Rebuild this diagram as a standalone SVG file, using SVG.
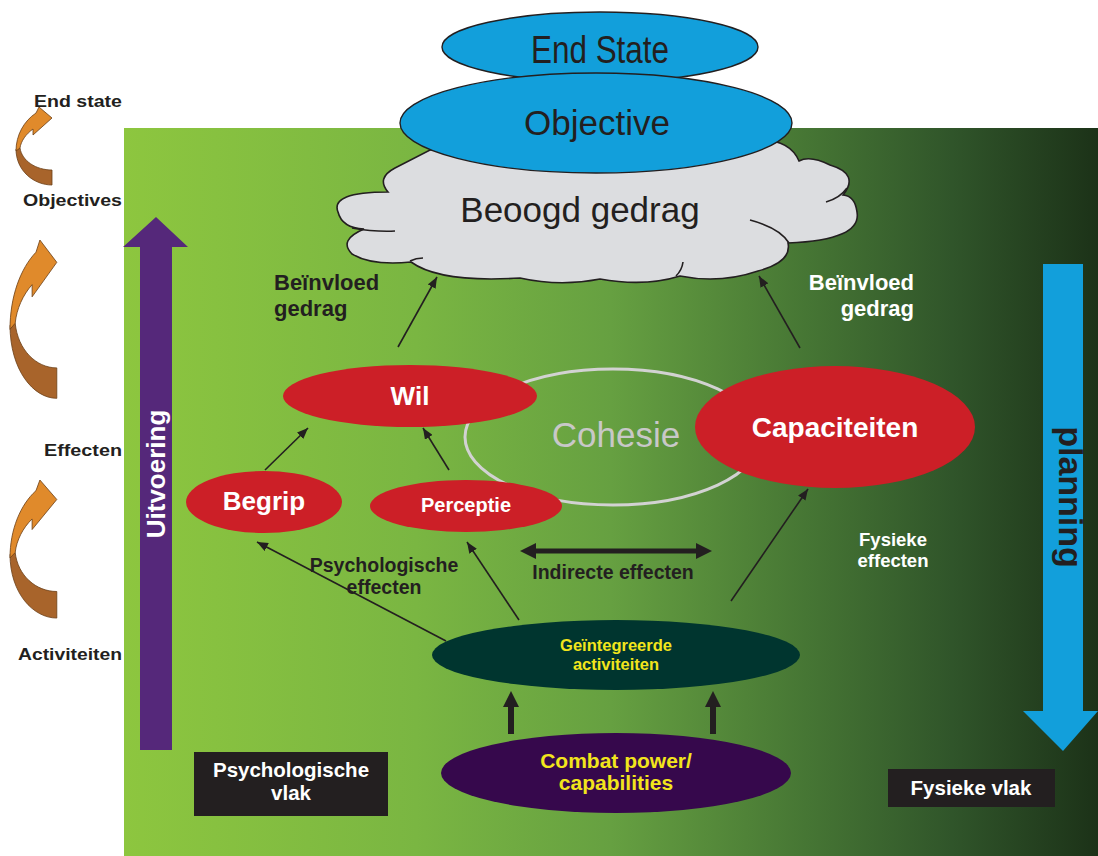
<svg xmlns="http://www.w3.org/2000/svg" width="1098" height="856" viewBox="0 0 1098 856">
<defs>
<linearGradient id="bgGrad" x1="124" y1="0" x2="1098" y2="0" gradientUnits="userSpaceOnUse">
<stop offset="0" stop-color="#8dc63f"/>
<stop offset="0.3" stop-color="#7ab642"/>
<stop offset="0.5" stop-color="#66a041"/>
<stop offset="0.7" stop-color="#467634"/>
<stop offset="0.85" stop-color="#30552a"/>
<stop offset="1" stop-color="#1c3218"/>
</linearGradient>
<marker id="ah" markerUnits="userSpaceOnUse" markerWidth="11" markerHeight="9" refX="11" refY="4.5" orient="auto">
<path d="M0,0 L11,4.5 L0,9 z" fill="#231f20"/>
</marker>
</defs>
<style>
text{font-family:"Liberation Sans",Arial,sans-serif;}
.b{font-weight:bold;}
.dark{fill:#231f20;}
.white{fill:#ffffff;}
.yellow{fill:#f2e51c;}
.red{fill:#cc1f27;}
.conn{stroke:#231f20;stroke-width:1.6;fill:none;marker-end:url(#ah);}
.orange{fill:#e08a2b;stroke:#6b3f16;stroke-width:0.8;vector-effect:non-scaling-stroke;}
.brown{fill:#a8642b;stroke:#6b3f16;stroke-width:0.8;vector-effect:non-scaling-stroke;}
.cloudline{fill:none;stroke:#231f20;stroke-width:1.6;}
</style>

<rect id="background" x="124" y="128" width="974" height="728" fill="url(#bgGrad)"/>

<g id="left-scale">
<text class="b dark" x="122" y="107" font-size="17" text-anchor="end" textLength="88" lengthAdjust="spacingAndGlyphs">End state</text>
<text class="b dark" x="122" y="206" font-size="17" text-anchor="end" textLength="99" lengthAdjust="spacingAndGlyphs">Objectives</text>
<text class="b dark" x="122" y="456" font-size="17" text-anchor="end" textLength="78" lengthAdjust="spacingAndGlyphs">Effecten</text>
<text class="b dark" x="122" y="660" font-size="17" text-anchor="end" textLength="104" lengthAdjust="spacingAndGlyphs">Activiteiten</text>
<g id="curved-arrow-1" transform="translate(16,107)">
<path class="brown" d="M0,42 C0,64 18,78 36,78 L36,63 C20,63 6,54 4,41 Z"/>
<path class="orange" d="M20,6 L23,0 L36,11 L17,28 L17,22 C10,27 5,34 4,41 L0,44 C0,28 8,14 20,6 Z"/>
</g>
<g id="curved-arrow-2" transform="translate(10,240) scale(1.3,2.03)">
<path class="brown" d="M0,42 C0,64 18,78 36,78 L36,63 C20,63 6,54 4,41 Z"/>
<path class="orange" d="M20,6 L23,0 L36,11 L17,28 L17,22 C10,27 5,34 4,41 L0,44 C0,28 8,14 20,6 Z"/>
</g>
<g id="curved-arrow-3" transform="translate(10,480) scale(1.3,1.77)">
<path class="brown" d="M0,42 C0,64 18,78 36,78 L36,63 C20,63 6,54 4,41 Z"/>
<path class="orange" d="M20,6 L23,0 L36,11 L17,28 L17,22 C10,27 5,34 4,41 L0,44 C0,28 8,14 20,6 Z"/>
</g>
</g>

<g id="uitvoering">
<polygon points="140,750 172,750 172,247 188,247 156,217 123,247 140,247" fill="#55287a"/>
<text class="b white" font-size="26" text-anchor="middle" transform="translate(165,474) rotate(-90)">Uitvoering</text>
</g>

<g id="planning">
<polygon points="1043,264 1083,264 1083,711 1098,711 1063,751 1023,711 1043,711" fill="#129fdb"/>
<text class="b dark" font-size="34" text-anchor="middle" transform="translate(1059,497) rotate(90)">planning</text>
</g>

<g id="beoogd-gedrag">
<path d="M 395,168 Q 376,178 388,192 Q 330,192 338,212 Q 342,228 364,229 Q 338,240 352,254 Q 372,266 411,262 Q 440,283 520,278 Q 560,287 600,279 Q 645,287 680,276 Q 720,284 758,271 Q 792,262 788,243 Q 862,240 857,212 Q 855,196 843,195 Q 860,174 830,165 Q 810,155 799,161 Q 790,140 760,140 L 430,150 Z" fill="#dcdde0" stroke="#231f20" stroke-width="1.6"/>
<path class="cloudline" d="M 352,228 Q 375,232 395,231"/>
<path class="cloudline" d="M 750,220 Q 780,228 789,243"/>
<path class="cloudline" d="M 826,202 Q 840,198 847,188"/>
<path class="cloudline" d="M 410,261 Q 416,258 423,258"/>
<path class="cloudline" d="M 683,262 Q 682,270 676,276"/>
<text class="dark" x="580" y="222" font-size="35" text-anchor="middle">Beoogd gedrag</text>
</g>

<g id="end-state">
<ellipse cx="600" cy="47" rx="158" ry="35" fill="#129fdb" stroke="#231f20" stroke-width="1.4"/>
<text class="dark" x="600" y="63" font-size="38" text-anchor="middle" textLength="138" lengthAdjust="spacingAndGlyphs">End State</text>
</g>

<g id="objective">
<ellipse cx="596" cy="123" rx="196" ry="50" fill="#129fdb" stroke="#231f20" stroke-width="1.4"/>
<text class="dark" x="597" y="135" font-size="35" text-anchor="middle">Objective</text>
</g>

<g id="label-beinvloed-left">
<text class="b dark" x="274" y="290" font-size="22">Beïnvloed</text>
<text class="b dark" x="274" y="316" font-size="22">gedrag</text>
</g>
<g id="label-beinvloed-right">
<text class="b white" x="914" y="290" font-size="22" text-anchor="end">Beïnvloed</text>
<text class="b white" x="914" y="316" font-size="22" text-anchor="end">gedrag</text>
</g>

<g id="cohesie">
<ellipse cx="613" cy="437" rx="148" ry="68" fill="none" stroke="#d2d2d2" stroke-width="3"/>
<text x="616" y="447" font-size="35" text-anchor="middle" fill="#c8c8c8">Cohesie</text>
</g>

<g id="wil">
<ellipse cx="410" cy="396" rx="127" ry="31" class="red"/>
<text class="b white" x="410" y="405" font-size="26" text-anchor="middle">Wil</text>
</g>

<g id="capaciteiten">
<ellipse cx="835" cy="427" rx="140" ry="61" class="red"/>
<text class="b white" x="835" y="437" font-size="28" text-anchor="middle">Capaciteiten</text>
</g>

<g id="begrip">
<ellipse cx="264" cy="502" rx="78" ry="31" class="red"/>
<text class="b white" x="264" y="510" font-size="26" text-anchor="middle">Begrip</text>
</g>

<g id="perceptie">
<ellipse cx="466" cy="506" rx="96" ry="26" class="red"/>
<text class="b white" x="466" y="512" font-size="20" text-anchor="middle">Perceptie</text>
</g>

<g id="label-psych-effecten">
<text class="b dark" x="384" y="572" font-size="19.5" text-anchor="middle">Psychologische</text>
<text class="b dark" x="384" y="594" font-size="19.5" text-anchor="middle">effecten</text>
</g>

<g id="label-indirecte">
<text class="b dark" x="613" y="579" font-size="19.5" text-anchor="middle">Indirecte effecten</text>
</g>

<g id="label-fysieke-effecten">
<text class="b white" x="893" y="546" font-size="18.5" text-anchor="middle">Fysieke</text>
<text class="b white" x="893" y="567" font-size="18.5" text-anchor="middle">effecten</text>
</g>

<g id="connectors">
<line class="conn" x1="398" y1="347" x2="437" y2="277"/>
<line class="conn" x1="800" y1="348" x2="759" y2="276"/>
<line class="conn" x1="265" y1="470" x2="308" y2="428"/>
<line class="conn" x1="449" y1="470" x2="423" y2="428"/>
<line class="conn" x1="446" y1="641" x2="257" y2="542"/>
<line class="conn" x1="519" y1="620" x2="467" y2="542"/>
<line class="conn" x1="731" y1="601" x2="808" y2="489"/>
<polygon id="indirecte-arrow" points="520,551 536,543 536,548.5 696,548.5 696,543 712,551 696,559 696,553.5 536,553.5 536,559" fill="#231f20"/>
<polygon id="combat-arrow-left" points="508,734 514,734 514,707 519,707 511,691 503,707 508,707" fill="#231f20"/>
<polygon id="combat-arrow-right" points="710,734 716,734 716,707 721,707 713,691 705,707 710,707" fill="#231f20"/>
</g>

<g id="geintegreerde-activiteiten">
<ellipse cx="616" cy="655" rx="184" ry="35" fill="#00352f"/>
<text class="b yellow" x="616" y="651" font-size="16.5" text-anchor="middle">Geïntegreerde</text>
<text class="b yellow" x="616" y="670" font-size="16.5" text-anchor="middle">activiteiten</text>
</g>

<g id="combat-power">
<ellipse cx="616" cy="773" rx="175" ry="40" fill="#36084c"/>
<text class="b yellow" x="616" y="768" font-size="21" text-anchor="middle">Combat power/</text>
<text class="b yellow" x="616" y="790" font-size="21" text-anchor="middle">capabilities</text>
</g>

<g id="psychologische-vlak">
<rect x="194" y="752" width="194" height="64" fill="#231f20"/>
<text class="b white" x="291" y="777" font-size="20.5" text-anchor="middle">Psychologische</text>
<text class="b white" x="291" y="800" font-size="20.5" text-anchor="middle">vlak</text>
</g>

<g id="fysieke-vlak">
<rect x="888" y="769" width="167" height="38" fill="#231f20"/>
<text class="b white" x="971" y="795" font-size="20.5" text-anchor="middle">Fysieke vlak</text>
</g>
</svg>
